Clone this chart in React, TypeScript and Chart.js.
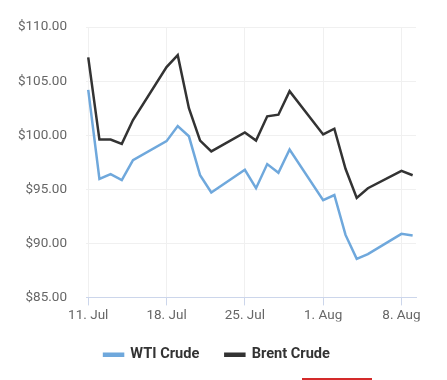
import React, { useEffect, useRef } from "react";
import { Chart, registerables } from "chart.js";

Chart.register(...registerables);

// Trading days, as day offsets from 11 Jul
const dayOffsets = [0, 1, 2, 3, 4, 7, 8, 9, 10, 11, 14, 15, 16, 17, 18, 21, 22, 23, 24, 25, 28, 29];
const wtiCrude = [104.2, 95.95, 96.4, 95.85, 97.7, 99.45, 100.85, 99.9, 96.3, 94.7, 96.8, 95.1, 97.33, 96.53, 98.68, 94.0, 94.47, 90.78, 88.57, 89.0, 90.88, 90.72];
const brentCrude = [107.2, 99.6, 99.6, 99.2, 101.4, 106.3, 107.4, 102.5, 99.5, 98.5, 100.25, 99.5, 101.75, 101.9, 104.07, 100.07, 100.6, 96.9, 94.2, 95.1, 96.7, 96.3];
const xTickValues = [0, 7, 14, 21, 28];
const xTickLabels = ["11. Jul", "18. Jul", "25. Jul", "1. Aug", "8. Aug"];
const seriesNames = ["WTI Crude", "Brent Crude"];
const seriesColors = ["#6fa8dc", "#333333"];

export default function App() {
  const ref = useRef<HTMLCanvasElement | null>(null);
  useEffect(() => {
    if (!ref.current) return;
    const toPts = (vals: number[]) => vals.map((v, i) => ({ x: dayOffsets[i], y: v }));
    const chart = new Chart(ref.current, {
      type: "line",
      data: {
        datasets: [
          { label: seriesNames[0], data: toPts(wtiCrude), borderColor: seriesColors[0], backgroundColor: seriesColors[0], borderWidth: 2.5, pointRadius: 0, tension: 0 },
          { label: seriesNames[1], data: toPts(brentCrude), borderColor: seriesColors[1], backgroundColor: seriesColors[1], borderWidth: 2.5, pointRadius: 0, tension: 0 },
        ],
      },
      options: {
        responsive: false,
        animation: false,
        layout: { padding: { left: 0, right: 13, top: 24, bottom: 8 } },
        plugins: {
          tooltip: { enabled: false },
          legend: {
            position: "bottom",
            labels: {
              boxWidth: 19,
              boxHeight: 2,
              padding: 26,
              color: "#333333",
              font: { family: "Roboto", size: 14.6, weight: "bold" },
            },
          },
        },
        scales: {
          x: {
            type: "linear",
            min: -0.2,
            max: 29.3,
            afterBuildTicks: (scale: any) => {
              scale.ticks = xTickValues.map((v) => ({ value: v }));
            },
            afterFit: (scale: any) => {
              scale.height = 24;
            },
            ticks: {
              color: "#666666",
              font: { family: "Roboto", size: 13.5 },
              padding: 2,
              maxRotation: 0,
              autoSkip: false,
              callback: (v: any) => {
                const i = xTickValues.indexOf(Number(v));
                return i >= 0 ? xTickLabels[i] : "";
              },
            },
            grid: { color: "#f0f0f0", tickColor: "#ccd6eb", tickLength: 8, lineWidth: 1 },
            border: { color: "#ccd6eb", width: 1 },
          },
          y: {
            min: 85,
            max: 110,
            afterFit: (scale: any) => {
              scale.width = 86;
            },
            ticks: {
              stepSize: 5,
              color: "#666666",
              font: { family: "Roboto", size: 13.5 },
              padding: 19,
              callback: (v: any) => "$" + Number(v).toFixed(2),
            },
            grid: { color: "#f0f0f0", drawTicks: false },
            border: { display: false },
          },
          y2: {
            position: "right",
            display: true,
            min: 0,
            max: 1,
            afterFit: (scale: any) => {
              scale.width = 18;
            },
            ticks: { display: false },
            grid: { display: false },
            border: { display: false },
          },
        },
      },
    } as any);
    return () => chart.destroy();
  }, []);
  return (
    <div style={{ position: "fixed", left: 0, top: 0, width: 447, height: 380, background: "#ffffff" }}>
      <canvas ref={ref} width={447} height={380} style={{ display: "block" }} />
      <div style={{ position: "absolute", left: 302, top: 378, width: 70, height: 2, background: "#d42a2a" }} />
    </div>
  );
}
